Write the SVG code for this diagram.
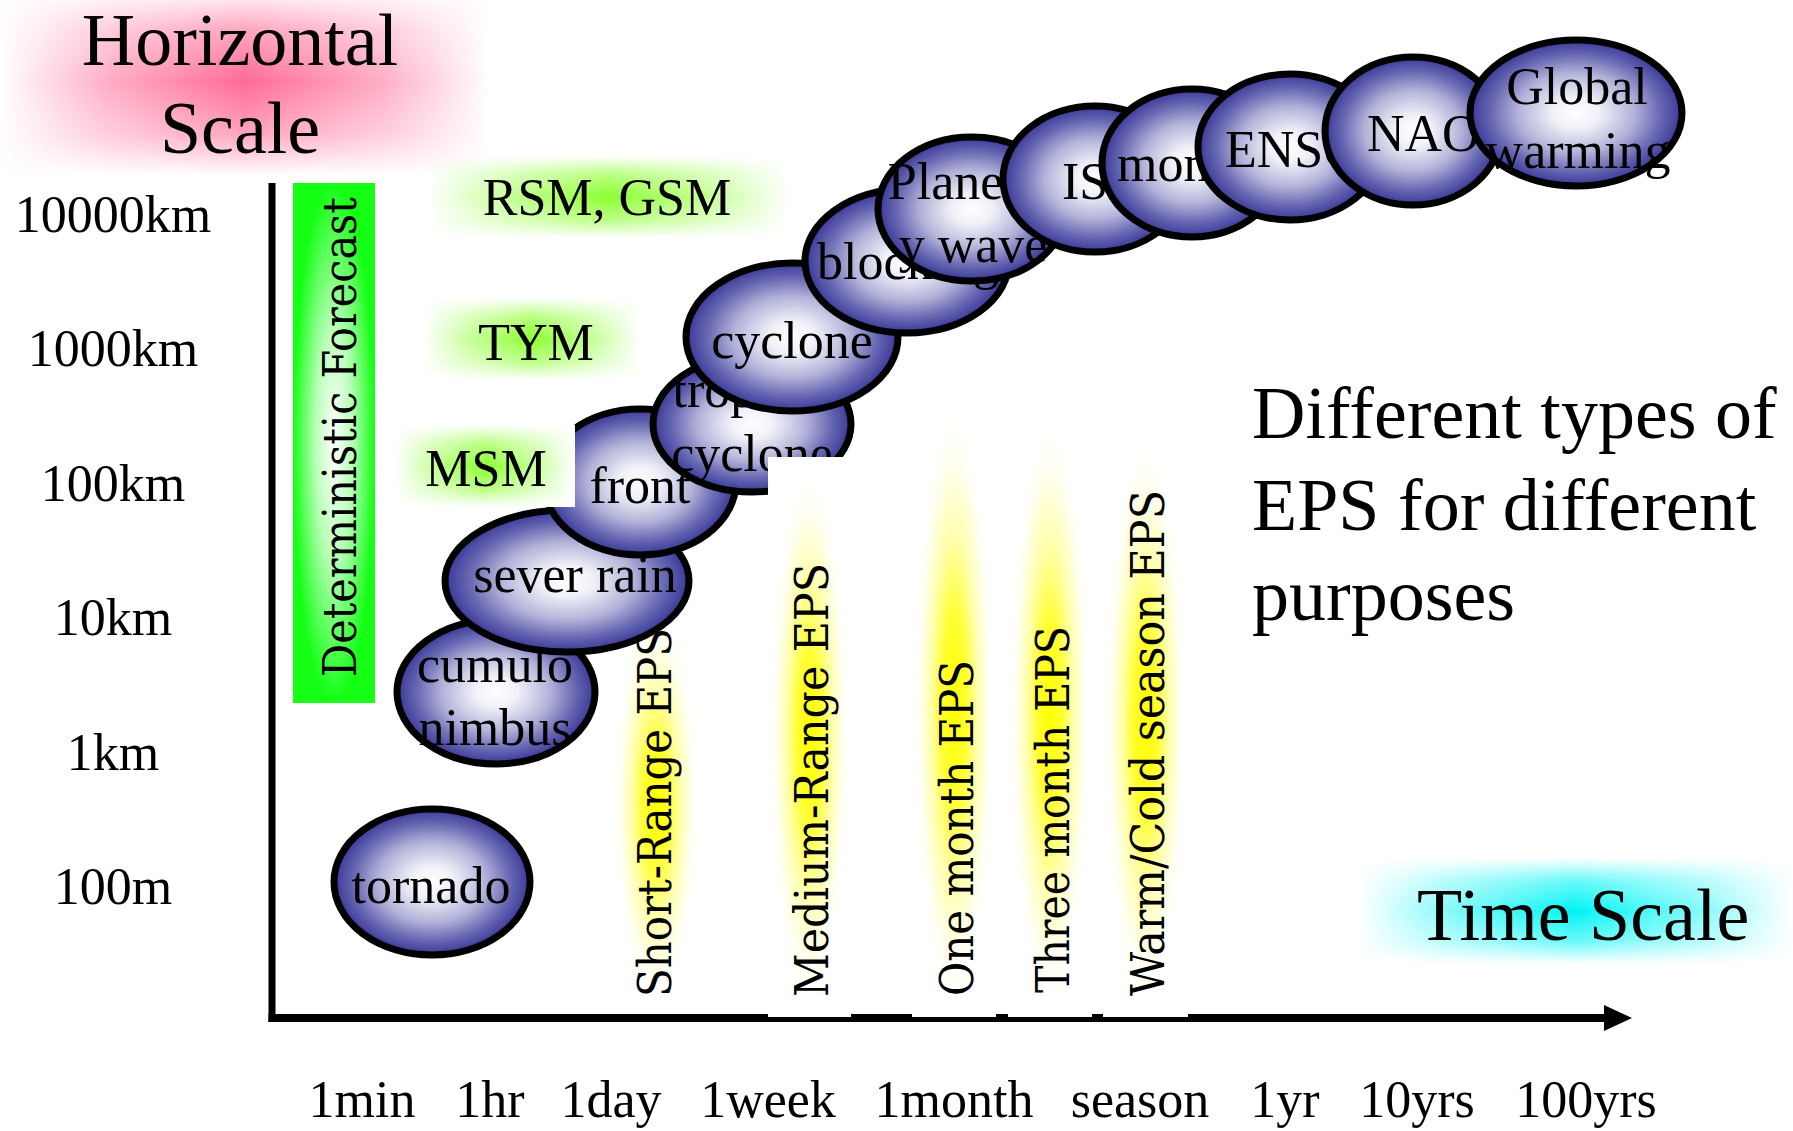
<svg xmlns="http://www.w3.org/2000/svg" width="1793" height="1131" viewBox="0 0 1793 1131">
<style>
.t{font-family:"Liberation Serif","Times New Roman",serif;fill:#000}
.big{font-size:74px}
.lab{font-size:52px}
.mid{text-anchor:middle}
.eps{font-family:"DejaVu Serif","Liberation Serif",serif;font-size:47px;fill:#000}
.ball{fill:url(#ballG);stroke:#000;stroke-width:7}
.axis{stroke:#000;fill:none}
</style>
<defs>
<radialGradient id="ballG" cx="0.5" cy="0.5" r="0.5">
<stop offset="0" stop-color="#ffffff"/>
<stop offset="0.22" stop-color="#f0f0f8"/>
<stop offset="0.55" stop-color="#b2b2d9"/>
<stop offset="0.8" stop-color="#6868b3"/>
<stop offset="1" stop-color="#383898"/>
</radialGradient>
<linearGradient id="vFade" x1="0" y1="0" x2="0" y2="1">
<stop offset="0" stop-color="#000000"/>
<stop offset="0.22" stop-color="#999999"/>
<stop offset="0.5" stop-color="#ffffff"/>
<stop offset="0.78" stop-color="#999999"/>
<stop offset="1" stop-color="#000000"/>
</linearGradient>
<mask id="vMask" maskContentUnits="objectBoundingBox">
<rect x="0" y="0" width="1" height="1" fill="url(#vFade)"/>
</mask>
<linearGradient id="pinkH" x1="0" y1="0" x2="1" y2="0">
<stop offset="0" stop-color="#ff6a96" stop-opacity="0"/>
<stop offset="0.22" stop-color="#ff6a96" stop-opacity="0.55"/>
<stop offset="0.5" stop-color="#ff6a96" stop-opacity="1"/>
<stop offset="0.78" stop-color="#ff6a96" stop-opacity="0.55"/>
<stop offset="1" stop-color="#ff6a96" stop-opacity="0"/>
</linearGradient>
<linearGradient id="greenH" x1="0" y1="0" x2="1" y2="0">
<stop offset="0" stop-color="#8cff30" stop-opacity="0"/>
<stop offset="0.22" stop-color="#8cff30" stop-opacity="0.5"/>
<stop offset="0.5" stop-color="#8cff30" stop-opacity="1"/>
<stop offset="0.78" stop-color="#8cff30" stop-opacity="0.5"/>
<stop offset="1" stop-color="#8cff30" stop-opacity="0"/>
</linearGradient>
<linearGradient id="cyanH" x1="0" y1="0" x2="1" y2="0">
<stop offset="0" stop-color="#00f4f4" stop-opacity="0"/>
<stop offset="0.22" stop-color="#00f4f4" stop-opacity="0.5"/>
<stop offset="0.5" stop-color="#00f4f4" stop-opacity="1"/>
<stop offset="0.78" stop-color="#00f4f4" stop-opacity="0.5"/>
<stop offset="1" stop-color="#00f4f4" stop-opacity="0"/>
</linearGradient>
<radialGradient id="yelG" cx="0.5" cy="0.5" r="0.5">
<stop offset="0" stop-color="#ffff00"/>
<stop offset="0.3" stop-color="#ffff33"/>
<stop offset="0.55" stop-color="#ffffaa"/>
<stop offset="0.8" stop-color="#fffff0"/>
<stop offset="1" stop-color="#ffffff" stop-opacity="0"/>
</radialGradient>
<radialGradient id="barG" cx="0.5" cy="0.5" r="0.5">
<stop offset="0" stop-color="#ffffff"/>
<stop offset="0.45" stop-color="#b8ffb8"/>
<stop offset="1" stop-color="#14ff14"/>
</radialGradient>
<marker id="arrow" markerUnits="userSpaceOnUse" markerWidth="30" markerHeight="26" refX="4" refY="13" orient="auto">
<path d="M0,0 L28,13 L0,26 z" fill="#000"/>
</marker>
</defs>
<rect width="1793" height="1131" fill="#ffffff"/>

<g id="title-horizontal">
<rect x="0" y="-12" width="490" height="188" fill="url(#pinkH)" mask="url(#vMask)"/>
<text class="t big mid" x="240" y="65">Horizontal</text>
<text class="t big mid" x="240" y="153">Scale</text>
</g>

<g id="deterministic">
<rect x="293" y="183" width="82" height="520" fill="url(#barG)"/>
<text class="eps" font-size="50" text-anchor="middle" textLength="480" lengthAdjust="spacingAndGlyphs" transform="translate(356,437) rotate(-90)">Deterministic Forecast</text>
</g>

<g id="y-labels">
<text class="t lab mid" x="113" y="232">10000km</text>
<text class="t lab mid" x="113" y="366">1000km</text>
<text class="t lab mid" x="113" y="501">100km</text>
<text class="t lab mid" x="113" y="635">10km</text>
<text class="t lab mid" x="113" y="770">1km</text>
<text class="t lab mid" x="113" y="904">100m</text>
</g>

<g id="rsm-gsm">
<rect x="428" y="156" width="362" height="82" fill="url(#greenH)" mask="url(#vMask)"/>
<text class="t lab mid" x="607" y="215">RSM, GSM</text>
</g>
<g id="tym">
<rect x="423" y="298" width="218" height="82" fill="url(#greenH)" mask="url(#vMask)"/>
<text class="t lab mid" x="536" y="360">TYM</text>
</g>

<g id="short-range-eps">
<rect x="612" y="600" width="88" height="410" fill="url(#yelG)"/>
<text class="eps" textLength="369" lengthAdjust="spacingAndGlyphs" transform="translate(671,997) rotate(-90)">Short-Range EPS</text>
</g>

<g id="tornado">
<ellipse class="ball" cx="432" cy="882" rx="98" ry="73"/>
<text class="t lab mid" x="431" y="903">tornado</text>
</g>
<g id="cumulonimbus">
<ellipse class="ball" cx="496" cy="692" rx="99" ry="72"/>
<text class="t lab mid" x="495" y="682">cumulo</text>
<text class="t lab mid" x="495" y="745">nimbus</text>
</g>
<g id="sever-rain">
<ellipse class="ball" cx="567" cy="581" rx="122" ry="71"/>
<text class="t lab mid" x="575" y="592">sever rain</text>
</g>
<g id="front">
<ellipse class="ball" cx="640" cy="482" rx="96" ry="73"/>
<text class="t lab mid" x="640" y="503">front</text>
</g>

<g id="msm">
<rect x="395" y="425" width="180" height="82" fill="#ffffff"/>
<rect x="395" y="425" width="180" height="82" fill="url(#greenH)" mask="url(#vMask)"/>
<text class="t lab mid" x="486" y="486">MSM</text>
</g>

<g id="tropical-cyclone">
<ellipse class="ball" cx="752" cy="424" rx="99" ry="68"/>
<text class="t lab mid" x="752" y="407">tropical</text>
<text class="t lab mid" x="752" y="471">cyclone</text>
</g>
<g id="cyclone">
<ellipse class="ball" cx="792" cy="337" rx="106" ry="74"/>
<text class="t lab mid" x="792" y="358">cyclone</text>
</g>
<g id="blocking">
<ellipse class="ball" cx="907" cy="261" rx="102" ry="72"/>
<text class="t lab mid" x="908" y="279">blocking</text>
</g>
<g id="planetary-wave">
<ellipse class="ball" cx="972" cy="209" rx="94" ry="72"/>
<text class="t lab mid" x="973" y="199">Planetar</text>
<text class="t lab mid" x="973" y="262">y wave</text>
</g>
<g id="iso">
<ellipse class="ball" cx="1095" cy="179" rx="92" ry="73"/>
<text class="t lab" x="1062" y="199">ISO</text>
</g>
<g id="monsoon">
<ellipse class="ball" cx="1192" cy="163" rx="90" ry="74"/>
<text class="t lab" x="1117" y="181">monsoon</text>
</g>
<g id="enso">
<ellipse class="ball" cx="1290" cy="147" rx="92" ry="73"/>
<text class="t lab" x="1225" y="167">ENSO</text>
</g>
<g id="nao">
<ellipse class="ball" cx="1413" cy="131" rx="88" ry="74"/>
<text class="t lab" x="1367" y="151">NAO</text>
</g>
<g id="global-warming">
<ellipse class="ball" cx="1576" cy="113" rx="106" ry="73"/>
<text class="t lab mid" x="1577" y="104">Global</text>
<text class="t lab mid" x="1578" y="168">warming</text>
</g>

<g id="connectors">
<line class="axis" x1="272" y1="183" x2="272" y2="1022" stroke-width="7"/>
<line class="axis" x1="268.5" y1="1018" x2="1608" y2="1018" stroke-width="8" marker-end="url(#arrow)"/>
</g>

<g id="medium-range-eps">
<rect x="768" y="457" width="83" height="560" fill="#ffffff"/>
<rect x="768" y="457" width="83" height="560" fill="url(#yelG)"/>
<text class="eps" textLength="434" lengthAdjust="spacingAndGlyphs" transform="translate(828,997) rotate(-90)">Medium-Range EPS</text>
</g>
<g id="one-month-eps">
<rect x="912" y="400" width="84" height="617" fill="#ffffff"/>
<rect x="912" y="400" width="84" height="617" fill="url(#yelG)"/>
<text class="eps" textLength="336" lengthAdjust="spacingAndGlyphs" transform="translate(973,996) rotate(-90)">One month EPS</text>
</g>
<g id="three-month-eps">
<rect x="1008" y="410" width="84" height="607" fill="#ffffff"/>
<rect x="1008" y="410" width="84" height="607" fill="url(#yelG)"/>
<text class="eps" textLength="367" lengthAdjust="spacingAndGlyphs" transform="translate(1069,993) rotate(-90)">Three month EPS</text>
</g>
<g id="warm-cold-eps">
<rect x="1103" y="430" width="85" height="587" fill="#ffffff"/>
<rect x="1103" y="430" width="85" height="587" fill="url(#yelG)"/>
<text class="eps" textLength="506" lengthAdjust="spacingAndGlyphs" transform="translate(1164,996) rotate(-90)">Warm/Cold season EPS</text>
</g>

<g id="eps-purpose">
<text class="t big" x="1252" y="438">Different types of</text>
<text class="t big" x="1252" y="530">EPS for different</text>
<text class="t big" x="1252" y="620">purposes</text>
</g>

<g id="time-scale">
<rect x="1358" y="858" width="435" height="106" fill="url(#cyanH)" mask="url(#vMask)"/>
<text class="t big" x="1417" y="940">Time Scale</text>
</g>

<g id="x-labels">
<text class="t lab mid" x="362" y="1117">1min</text>
<text class="t lab mid" x="490" y="1117">1hr</text>
<text class="t lab mid" x="611" y="1117">1day</text>
<text class="t lab mid" x="768" y="1117">1week</text>
<text class="t lab mid" x="954" y="1117">1month</text>
<text class="t lab mid" x="1140" y="1117">season</text>
<text class="t lab mid" x="1285" y="1117">1yr</text>
<text class="t lab mid" x="1417" y="1117">10yrs</text>
<text class="t lab mid" x="1586" y="1117">100yrs</text>
</g>
</svg>
